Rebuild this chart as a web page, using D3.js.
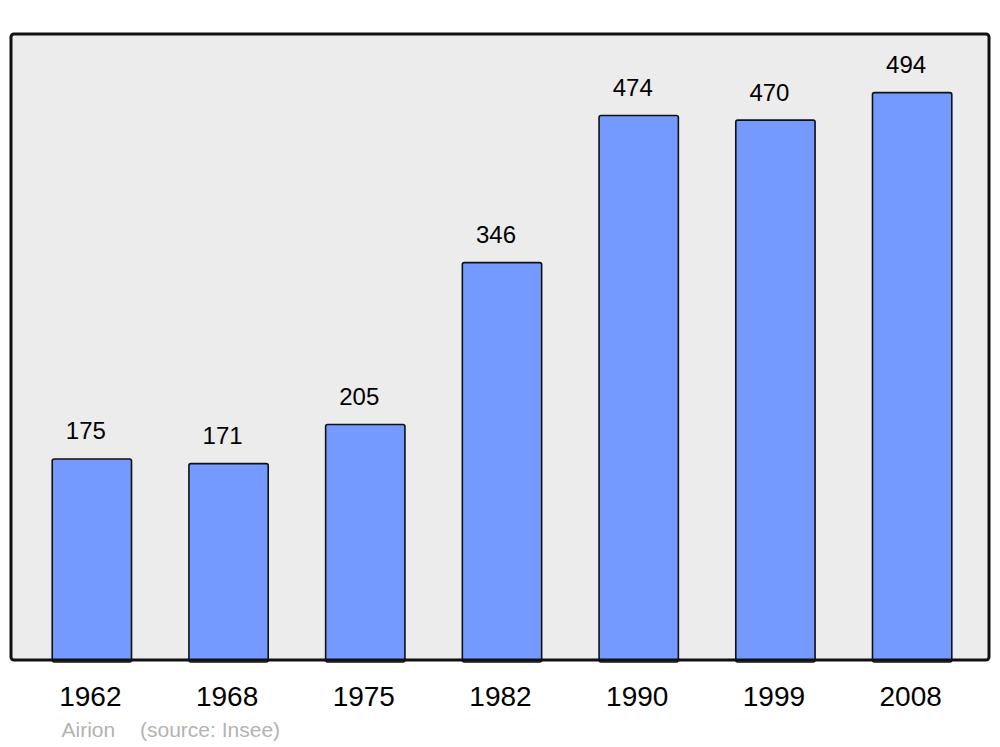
<!DOCTYPE html>
<html>
<head>
<meta charset="utf-8">
<script src="https://cdn.jsdelivr.net/npm/d3@7"></script>
<style>
    body { margin: 0; background: #fff; }
    svg { display: block; font-family: "Liberation Sans", Arial, sans-serif; }
</style>
</head>
<body>
<script>
const years = ["1962", "1968", "1975", "1982", "1990", "1999", "2008"];
const population = [175, 171, 205, 346, 474, 470, 494];
const creditAuthor = "Airion";
const creditSource = "(source: Insee)";

const size = {width: 1000, height: 747};
const frame = {left: 11, top: 34, right: 989, bottom: 660};

const root = d3.select(document.body).append("svg")
    .attr("width", size.width)
    .attr("height", size.height);

const x = d3.scaleBand()
    .domain(years)
    .range([23.5, 980.5])
    .paddingInner(0.42)
    .paddingOuter(0.21);
const y = d3.scaleLinear()
    .domain([0, 545])
    .range([frame.bottom, frame.top]);

// plot background
root.append("rect")
    .attr("x", frame.left)
    .attr("y", frame.top)
    .attr("width", frame.right - frame.left)
    .attr("height", frame.bottom - frame.top)
    .attr("rx", 3)
    .attr("fill", "#ececec");

// bars
root.append("g")
    .selectAll("rect")
    .data(population)
    .join("rect")
    .attr("x", (d, i) => x(years[i]))
    .attr("y", d => y(d))
    .attr("width", x.bandwidth())
    .attr("height", d => y(0) - y(d) + 2)
    .attr("rx", 2)
    .attr("fill", "#7499ff")
    .attr("stroke", "#111")
    .attr("stroke-width", 1.6);

// frame on top
root.append("rect")
    .attr("x", frame.left)
    .attr("y", frame.top)
    .attr("width", frame.right - frame.left)
    .attr("height", frame.bottom - frame.top)
    .attr("rx", 3)
    .attr("fill", "none")
    .attr("stroke", "#111")
    .attr("stroke-width", 3);

// value labels
root.append("g")
    .selectAll("text")
    .data(population)
    .join("text")
    .attr("x", (d, i) => x(years[i]) + x.bandwidth() / 2 - 6)
    .attr("y", d => y(d) - 19.5)
    .attr("text-anchor", "middle")
    .attr("font-size", 24)
    .attr("fill", "#000")
    .text(d => d);

// year axis
const axis = root.append("g")
    .attr("transform", `translate(0, ${frame.bottom})`)
    .call(d3.axisBottom(x).tickSize(0).tickPadding(0));
axis.select(".domain").remove();
axis.selectAll("text")
    .attr("dx", -1.5)
    .attr("y", 46)
    .attr("dy", 0)
    .attr("font-size", 28)
    .attr("font-family", "\"Liberation Sans\", Arial, sans-serif")
    .attr("fill", "#000");

// credits
const credit = root.append("g")
    .attr("font-size", 21)
    .attr("fill", "#b3b3b3");
credit.append("text")
    .attr("x", 61.5)
    .attr("y", 737)
    .text(creditAuthor);
credit.append("text")
    .attr("x", 140)
    .attr("y", 737)
    .text(creditSource);
</script>
</body>
</html>
